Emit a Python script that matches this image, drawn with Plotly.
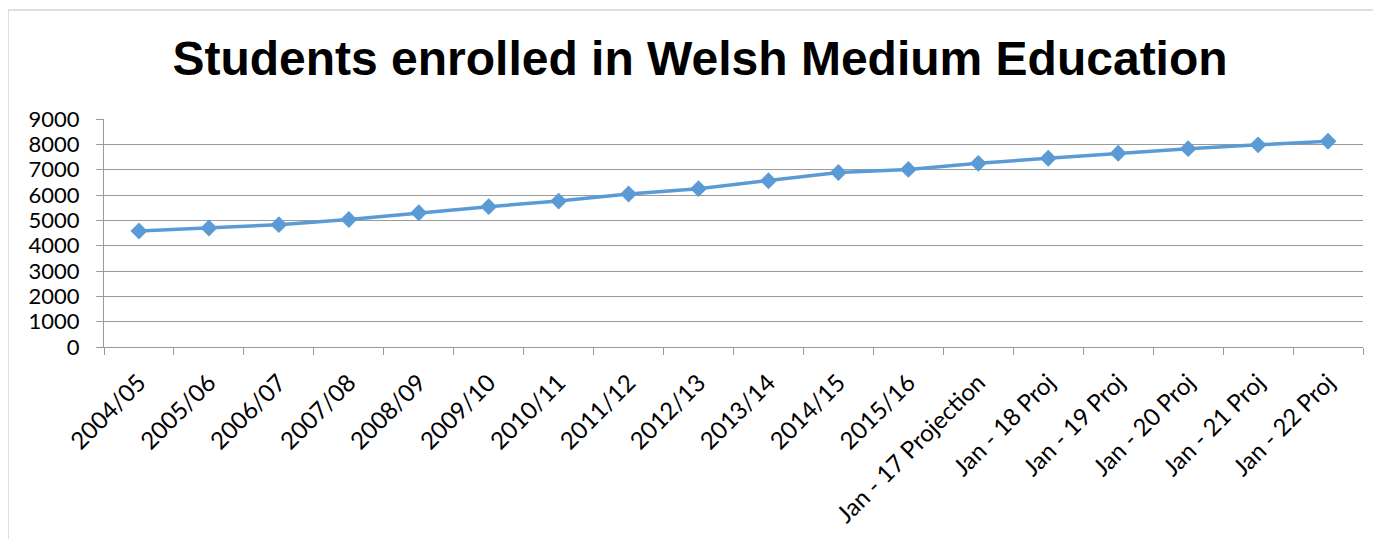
import plotly.graph_objects as go

categories = ["2004/05", "2005/06", "2006/07", "2007/08", "2008/09", "2009/10",
              "2010/11", "2011/12", "2012/13", "2013/14", "2014/15", "2015/16",
              "Jan - 17 Projection", "Jan - 18 Proj", "Jan - 19 Proj",
              "Jan - 20 Proj", "Jan - 21 Proj", "Jan - 22 Proj"]
students = [4580, 4700, 4830, 5030, 5300, 5540, 5760, 6040, 6250, 6560,
            6890, 7010, 7250, 7450, 7650, 7830, 7980, 8120]
y_ticks = [0, 1000, 2000, 3000, 4000, 5000, 6000, 7000, 8000, 9000]

# the page body has an 8px margin, so the figure starts at (8, 8)
OFF = 8
W, H = 1381 - OFF, 539 - OFF
L, T = 104 - OFF, 119 - OFF
pw, ph = 1259, 228
R, B = W - L - pw, H - T - ph

fig = go.Figure()
fig.add_trace(go.Scatter(
    x=categories, y=students, mode="lines+markers",
    line=dict(color="#5B9BD5", width=3.5),
    marker=dict(symbol="diamond", size=13, color="#5B9BD5"),
    showlegend=False,
))

fig.update_layout(
    width=W, height=H,
    margin=dict(l=L, r=R, t=T, b=B, autoexpand=False),
    paper_bgcolor="white", plot_bgcolor="white",
    title=dict(text="<b>Students enrolled in Welsh Medium Education</b>",
               x=(700 - OFF) / W, xanchor="center", y=1 - (58 - OFF) / H, yanchor="middle",
               font=dict(family="Liberation Sans, Arial", size=48, color="black")),
    font=dict(family="Lato, Open Sans, sans-serif", size=22, color="black"),
)
fig.update_xaxes(
    type="category", tickson="boundaries", ticks="outside", ticklen=7,
    tickcolor="#9a9a9a", tickwidth=1, tickangle=-45,
    showline=True, linecolor="#9a9a9a", linewidth=1,
    showgrid=False, range=[-0.5, len(categories) - 0.5],
    ticklabelstandoff=11,
    tickfont=dict(family="Lato, Open Sans, sans-serif", size=24),
)
fig.update_yaxes(
    range=[0, 9000], tickvals=y_ticks, ticks="outside", ticklen=7,
    tickcolor="#9a9a9a", showgrid=True, gridcolor="#9a9a9a", gridwidth=1,
    showline=True, linecolor="#9a9a9a", linewidth=1, zeroline=False,
    ticklabelstandoff=12,
    tickfont=dict(family="Lato, Open Sans, sans-serif", size=22),
)

# outer chart border (left and top edges)
x0 = (8 - OFF - L) / pw
ytop = (H - B - (10 - OFF)) / ph
fig.add_shape(type="line", xref="paper", yref="paper", x0=x0, x1=x0,
              y0=ytop, y1=-B / ph - 0.05, line=dict(color="#c0c0c0", width=1))
fig.add_shape(type="line", xref="paper", yref="paper", x0=x0, x1=1 + R / pw + 0.05,
              y0=ytop, y1=ytop, line=dict(color="#c0c0c0", width=1))

fig.write_html("out.html")
